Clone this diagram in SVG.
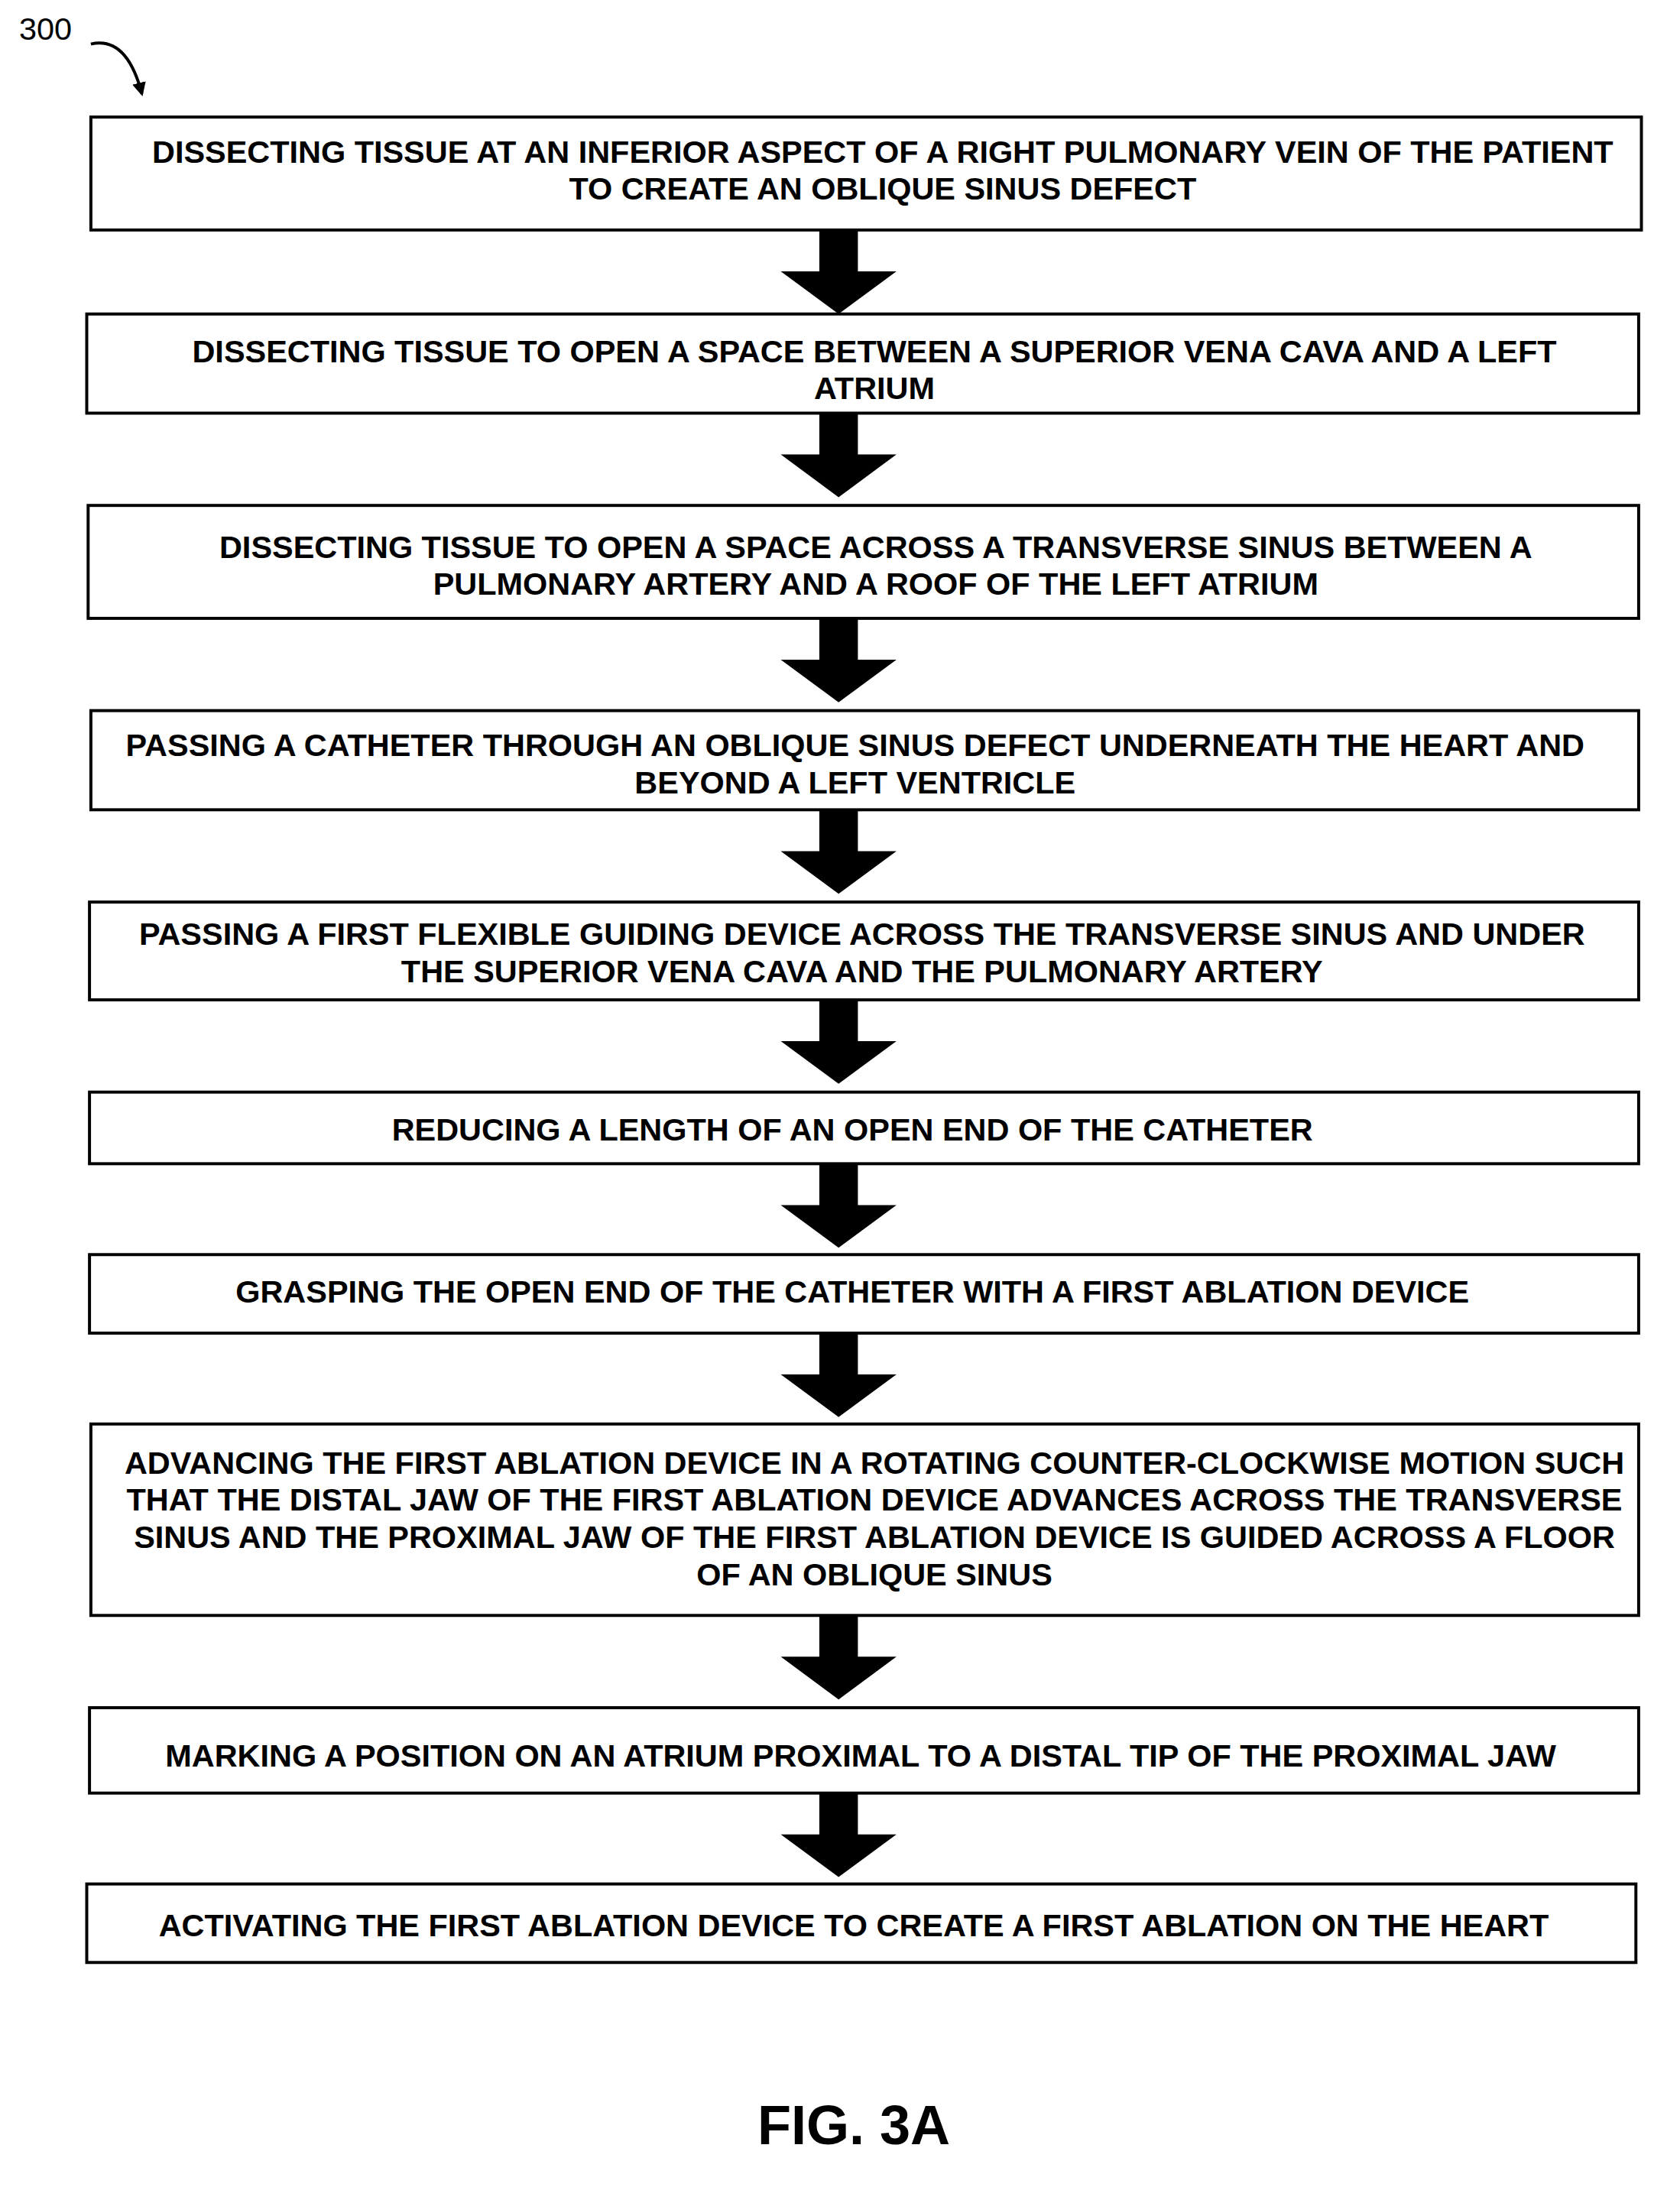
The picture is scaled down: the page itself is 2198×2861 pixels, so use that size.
<svg xmlns="http://www.w3.org/2000/svg" width="2198" height="2861" viewBox="0 0 2198 2861">
<style>
.b{fill:#fff;stroke:#000;stroke-width:2.2}
.t{font-family:"Liberation Sans",Arial,sans-serif;font-weight:bold;font-size:23px;text-anchor:middle;fill:#000}
.a{fill:#000}
</style>
<defs>
<marker id="ah" markerWidth="10" markerHeight="10" refX="8" refY="5" orient="auto" markerUnits="userSpaceOnUse"><path d="M0,0 L10,5 L0,10 Z" fill="#000"/></marker>
<path id="arr" d="M-14,0 H14 V30 H42 L0,61 L-42,30 H-14 Z"/>
</defs>
<rect width="2198" height="2861" fill="#fff"/>
<g transform="scale(1.8016)">
<g id="label300">
<text x="33" y="29" style="font-family:'Liberation Sans',Arial,sans-serif;font-size:23px;text-anchor:middle">300</text>
<path d="M66,32 Q92,26 103,68" fill="none" stroke="#000" stroke-width="2.2" marker-end="url(#ah)"/>
</g>
<g id="connectors" class="a">
<use href="#arr" x="609" y="167"/>
<use href="#arr" x="609" y="300"/>
<use href="#arr" x="609" y="449"/>
<use href="#arr" x="609" y="588"/>
<use href="#arr" x="609" y="726"/>
<use href="#arr" x="609" y="845"/>
<use href="#arr" x="609" y="968"/>
<use href="#arr" x="609" y="1173"/>
<use href="#arr" x="609" y="1302"/>
</g>
<g id="n1"><rect class="b" x="66" y="85" width="1126" height="82"/>
<text class="t" x="641" y="118">DISSECTING TISSUE AT AN INFERIOR ASPECT OF A RIGHT PULMONARY VEIN OF THE PATIENT</text>
<text class="t" x="641" y="145">TO CREATE AN OBLIQUE SINUS DEFECT</text></g>
<g id="n2"><rect class="b" x="63" y="228" width="1127" height="72"/>
<text class="t" x="635" y="263">DISSECTING TISSUE TO OPEN A SPACE BETWEEN A SUPERIOR VENA CAVA AND A LEFT</text>
<text class="t" x="635" y="290">ATRIUM</text></g>
<g id="n3"><rect class="b" x="64" y="367" width="1126" height="82"/>
<text class="t" x="636" y="405">DISSECTING TISSUE TO OPEN A SPACE ACROSS A TRANSVERSE SINUS BETWEEN A</text>
<text class="t" x="636" y="432">PULMONARY ARTERY AND A ROOF OF THE LEFT ATRIUM</text></g>
<g id="n4"><rect class="b" x="66" y="516" width="1124" height="72"/>
<text class="t" x="621" y="549">PASSING A CATHETER THROUGH AN OBLIQUE SINUS DEFECT UNDERNEATH THE HEART AND</text>
<text class="t" x="621" y="576">BEYOND A LEFT VENTRICLE</text></g>
<g id="n5"><rect class="b" x="65" y="655" width="1125" height="71"/>
<text class="t" x="626" y="686">PASSING A FIRST FLEXIBLE GUIDING DEVICE ACROSS THE TRANSVERSE SINUS AND UNDER</text>
<text class="t" x="626" y="713">THE SUPERIOR VENA CAVA AND THE PULMONARY ARTERY</text></g>
<g id="n6"><rect class="b" x="65" y="793" width="1125" height="52"/>
<text class="t" x="619" y="828">REDUCING A LENGTH OF AN OPEN END OF THE CATHETER</text></g>
<g id="n7"><rect class="b" x="65" y="911" width="1125" height="57"/>
<text class="t" x="619" y="946">GRASPING THE OPEN END OF THE CATHETER WITH A FIRST ABLATION DEVICE</text></g>
<g id="n8"><rect class="b" x="66" y="1034" width="1124" height="139"/>
<text class="t" x="635" y="1070">ADVANCING THE FIRST ABLATION DEVICE IN A ROTATING COUNTER-CLOCKWISE MOTION SUCH</text>
<text class="t" x="635" y="1097">THAT THE DISTAL JAW OF THE FIRST ABLATION DEVICE ADVANCES ACROSS THE TRANSVERSE</text>
<text class="t" x="635" y="1124">SINUS AND THE PROXIMAL JAW OF THE FIRST ABLATION DEVICE IS GUIDED ACROSS A FLOOR</text>
<text class="t" x="635" y="1151">OF AN OBLIQUE SINUS</text></g>
<g id="n9"><rect class="b" x="65" y="1240" width="1125" height="62"/>
<text class="t" x="625" y="1283">MARKING A POSITION ON AN ATRIUM PROXIMAL TO A DISTAL TIP OF THE PROXIMAL JAW</text></g>
<g id="n10"><rect class="b" x="63" y="1368" width="1125" height="57"/>
<text class="t" x="620" y="1406">ACTIVATING THE FIRST ABLATION DEVICE TO CREATE A FIRST ABLATION ON THE HEART</text></g>
<text x="620" y="1557" style="font-family:'Liberation Sans',Arial,sans-serif;font-weight:bold;font-size:40px;text-anchor:middle">FIG. 3A</text>
</g>
</svg>
